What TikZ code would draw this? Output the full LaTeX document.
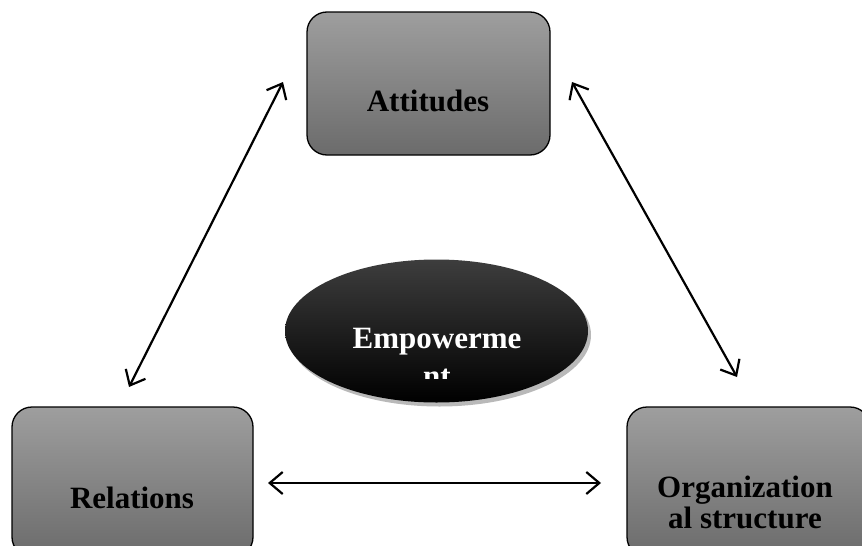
\documentclass[tikz,border=0pt]{standalone}
\usepackage{fontspec}
\setmainfont{Liberation Serif}
\usetikzlibrary{shapes.geometric,arrows.meta,shadows}

\tikzset{
  greybox/.style={draw=black, line width=1.3pt, rounded corners=20pt,
    top color=black!38, bottom color=black!58, inner sep=0pt},
  boxtext/.style={font=\fontsize{31}{31}\selectfont\bfseries, align=center},
  link/.style={line width=2.2pt, {Straight Barb[length=13pt,width=22pt]}-{Straight Barb[length=13pt,width=22pt]}}
}

\begin{document}
\begin{tikzpicture}[x=1pt, y=-1pt]
  \useasboundingbox (0,0) rectangle (862,546);
  % boxes
  \node[greybox, minimum width=243pt, minimum height=143pt] (att) at (428.5, 83.5) {};
  \node[greybox, minimum width=241pt, minimum height=150pt] (rel) at (132.5, 482) {};
  \node[greybox, minimum width=243pt, minimum height=150pt] (org) at (748.5, 482) {};
  \node[boxtext] (atttext) at (428, 101) {Attitudes};
  \node[boxtext] (reltext) at (132, 498) {Relations};
  \node[boxtext] (orgtext) at (745, 502) {Organization\\al structure};
  % centre
  \node[ellipse, top color=black!76, middle color=black, bottom color=black,
        minimum width=303pt, minimum height=143pt,
        drop shadow={shadow xshift=3pt, shadow yshift=-4pt, fill=black!55}] (emp) at (436.5, 331) {};
  \begin{scope}
    \clip (280, 250) rectangle (595, 378);
    \node[boxtext, text=white, anchor=north, font=\fontsize{31}{38}\selectfont\bfseries] (emptext) at (437, 324.5) {Empowerme\\nt};
  \end{scope}
  % links
  \coordinate (a1) at (283, 82);
  \coordinate (r1) at (129, 387);
  \coordinate (a2) at (572, 82);
  \coordinate (o1) at (737, 377);
  \coordinate (r2) at (268, 483);
  \coordinate (o2) at (601, 483);
  \draw[link] (a1) -- (r1);
  \draw[link] (a2) -- (o1);
  \draw[link] (r2) -- (o2);
\end{tikzpicture}
\end{document}
